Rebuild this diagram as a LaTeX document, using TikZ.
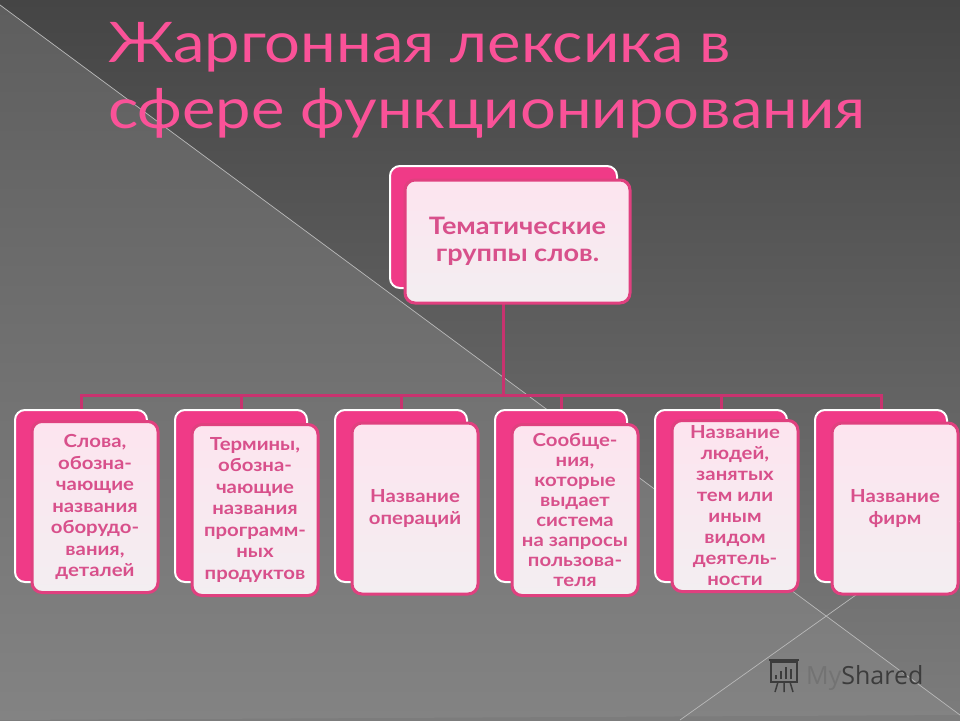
\documentclass[tikz,border=0pt]{standalone}
\usepackage{fontspec}
\setmainfont{Lato}
\newfontfamily\widefont[FakeStretch=1.13]{Lato}
\newfontfamily\markfont{Open Sans}
\usepackage{xcolor}
\usepackage{tikz}
\usetikzlibrary{positioning, calc}

\definecolor{bgtop}{HTML}{454545}
\definecolor{bgbot}{HTML}{7C7C7C}
\definecolor{bgltop}{HTML}{5E5E5E}
\definecolor{bglbot}{HTML}{838383}
\definecolor{hotpink}{HTML}{F03A87}
\definecolor{frontpink}{HTML}{FDE4EF}
\definecolor{frontlow}{HTML}{F3EEF1}
\definecolor{boxline}{HTML}{E0407F}
\definecolor{linepink}{HTML}{C8336F}
\definecolor{textpink}{HTML}{D8508B}
\definecolor{titlepink}{HTML}{FA5298}
\definecolor{markgray}{HTML}{3C3C3C}

\tikzset{
	backbox/.style={draw=white, line width=2pt, fill=hotpink, rounded corners=10pt, minimum width=132pt, minimum height=172pt},
	frontbox/.style={draw=boxline, line width=3pt, top color=frontpink, bottom color=frontlow, rounded corners=10pt, minimum width=126pt, minimum height=171pt, inner sep=0pt, align=center, text=textpink, font=\widefont\bfseries\fontsize{18}{21.5}\selectfont},
	conn/.style={draw=linepink, line width=3pt},
	titletext/.style={text=titlepink, inner sep=0pt, anchor=base west, font=\widefont\fontsize{56}{60}\selectfont}
}

\begin{document}
\begin{tikzpicture}[x=1pt, y=-1pt]
		\useasboundingbox (0,0) rectangle (960,720);
		\shade [top color=bgtop, bottom color=bgbot] (0,0) rectangle (960,720);
		\shade [top color=bgltop, bottom color=bglbot] (0,5) -- (960,715) -- (0,720) -- cycle;
		\draw [white!45!gray, line width=0.7pt] (0,5) -- (960,715);
		\draw [white!45!gray, line width=0.7pt] (680,720) -- (960,521);
		
		\node (title1) [titletext] at (108,62) {Жаргонная лексика в};
		\node (title2) [titletext] at (108,128) {сфере функционирования};
		
		\node (topb) [backbox, minimum width=227pt, minimum height=122pt] at (503.5,227) {};
		\coordinate (bar) at (503.5,395);
		
		\node (grp1b) [backbox] at (81,496) {};
		\node (grp2b) [backbox] at (241,496) {};
		\node (grp3b) [backbox] at (401,496) {};
		\node (grp4b) [backbox] at (561,496) {};
		\node (grp5b) [backbox] at (721,496) {};
		\node (grp6b) [backbox] at (881,496) {};
		
		\draw [conn] (topb.south) -- (bar);
		\draw [conn] (bar) -| (grp1b.north);
		\draw [conn] (bar) -| (grp2b.north);
		\draw [conn] (bar) -| (grp3b.north);
		\draw [conn] (bar) -| (grp4b.north);
		\draw [conn] (bar) -| (grp5b.north);
		\draw [conn] (bar) -| (grp6b.north);
		
		\node (top) [frontbox, minimum width=225pt, minimum height=123pt, font=\widefont\bfseries\fontsize{24}{27}\selectfont] at (517.5,241.5) {Тематические\\группы слов.};
		
		\node (grp1) [frontbox] at (95,507) {Слова,\\обозна-\\чающие\\названия\\оборудо-\\вания,\\деталей};
		\node (grp2) [frontbox] at (255,510) {Термины,\\обозна-\\чающие\\названия\\программ-\\ных\\продуктов};
		\node (grp3) [frontbox] at (415,508.5) {Название\\операций};
		\node (grp4) [frontbox, font=\widefont\bfseries\fontsize{18}{20}\selectfont] at (575,510) {Сообще-\\ния,\\которые\\выдает\\система\\на запросы\\пользова-\\теля};
		\node (grp5) [frontbox, font=\widefont\bfseries\fontsize{18}{21}\selectfont] at (735,506) {Название\\людей,\\занятых\\тем или\\иным\\видом\\деятель-\\ности};
		\node (grp6) [frontbox] at (895,508.5) {Название\\фирм};
		
		\draw [markgray, line width=2pt] (771,662) rectangle (797,682);
		\draw [markgray, line width=1.5pt] (769,660) -- (799,660);
		\draw [markgray, line width=2pt] (776,679) -- (776,675) (781,679) -- (781,671) (786,679) -- (786,667) (791,679) -- (791,669);
		\draw [markgray, line width=1.5pt] (778,682) -- (775,692) (784,682) -- (784,692) (790,682) -- (793,692);
		\node (mark) [anchor=base west, inner sep=0pt, font=\markfont\fontsize{25}{25}\selectfont] at (806,684) {\textcolor{gray!90!black}{My}\textcolor{markgray}{Shared}};
		
	\end{tikzpicture}
\end{document}
